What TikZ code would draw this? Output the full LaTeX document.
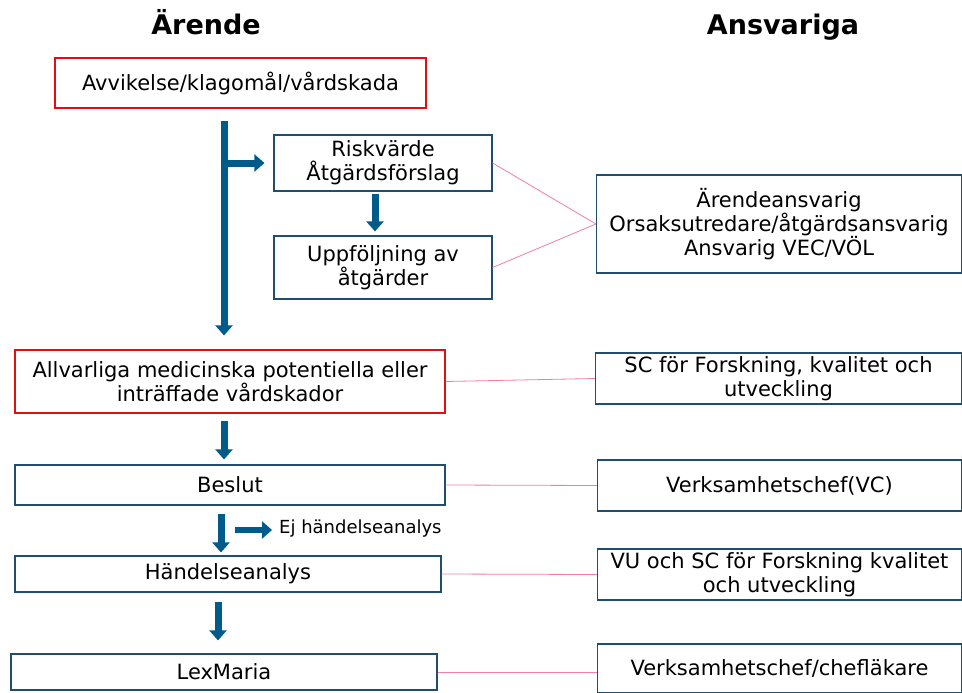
\documentclass[tikz,border=0pt]{standalone}
\usepackage{fontspec}
\setmainfont{DejaVu Sans}
\usepackage{tikz}
\usetikzlibrary{arrows.meta}

\definecolor{boxblue}{HTML}{1F4E6E}
\definecolor{flowblue}{HTML}{005A8A}
\definecolor{linkpink}{HTML}{F07FA0}
\definecolor{alertred}{HTML}{E01010}

\begin{document}
\begin{tikzpicture}[x=1pt,y=-1pt]
	\tikzset{every node/.style={font=\fontsize{21}{24}\selectfont,align=center,inner sep=0pt}}
	\tikzset{ruta/.style={draw=boxblue,line width=1.2pt}}
	\tikzset{larm/.style={draw=alertred,line width=1.2pt}}
	\tikzset{pil/.style={draw=flowblue,line width=7pt,-{Triangle[width=17pt,length=10pt]}}}
	\tikzset{koppling/.style={draw=linkpink,line width=0.8pt}}
	\tikzset{rubrik/.style={font=\fontsize{27}{30}\selectfont\bfseries,anchor=base}}
	\useasboundingbox (0,0) rectangle (962,693);
	% rubriker
	\node[rubrik] (arende) at (206,35) {Ärende};
	\node[rubrik] (ansvariga) at (783,35) {Ansvariga};
	% vänster kolumn
	\node[larm,minimum width=371pt,minimum height=50pt] (avv) at (240.5,83) {Avvikelse/klagomål/vårdskada};
	\node[ruta,minimum width=218pt,minimum height=56pt] (risk) at (383,163) {Riskvärde\\Åtgärdsförslag};
	\node[ruta,minimum width=218pt,minimum height=63pt] (uppf) at (383,267.5) {Uppföljning av\\åtgärder};
	\node[larm,minimum width=430pt,minimum height=63pt] (allv) at (230,381.5) {Allvarliga medicinska potentiella eller\\inträffade vårdskador};
	\node[ruta,minimum width=430pt,minimum height=40pt] (beslut) at (230,485) {Beslut};
	\node[ruta,minimum width=426pt,minimum height=36pt] (hand) at (228,574) {Händelseanalys};
	\node[ruta,minimum width=426pt,minimum height=36pt] (lex) at (224,672) {LexMaria};
	\node[anchor=west,font=\fontsize{18}{21}\selectfont] (ej) at (279,529) {Ej händelseanalys};
	% höger kolumn
	\node[ruta,minimum width=365pt,minimum height=98pt] (ansv) at (779,224) {Ärendeansvarig\\Orsaksutredare/åtgärdsansvarig\\Ansvarig VEC/VÖL};
	\node[ruta,minimum width=366pt,minimum height=51pt] (sc) at (778.5,378.5) {SC för Forskning, kvalitet och\\utveckling};
	\node[ruta,minimum width=364pt,minimum height=51pt] (vc) at (779.5,485.5) {Verksamhetschef(VC)};
	\node[ruta,minimum width=364pt,minimum height=51pt] (vu) at (779.5,574.5) {VU och SC för Forskning kvalitet\\och utveckling};
	\node[ruta,minimum width=364pt,minimum height=49pt] (chef) at (779.5,668.5) {Verksamhetschef/chefläkare};
	% pilar
	\coordinate (stam) at (224,121);
	\coordinate (gren) at (224,163);
	\coordinate (ejstart) at (235,530);
	\draw[pil,shorten >=14pt] (stam) -- (stam |- allv.north);
	\draw[pil,shorten <=-3.5pt,shorten >=9pt] (gren) -- (risk.west);
	\draw[pil,shorten <=2pt,shorten >=4pt] ([xshift=-8pt]risk.south) -- ([xshift=-8pt]uppf.north);
	\draw[pil,shorten <=7pt,shorten >=5pt] (allv.south -| stam) -- (beslut.north -| stam);
	\draw[pil,shorten <=8pt,shorten >=3pt] ([xshift=-9pt]beslut.south) -- ([xshift=-7pt]hand.north);
	\draw[pil,line width=6pt,shorten >=7pt] (ejstart) -- (ejstart -| ej.west);
	\draw[pil,shorten <=9pt,shorten >=13pt] ([xshift=-10pt]hand.south) -- ([xshift=-6pt]lex.north);
	% kopplingar
	\draw[koppling] (risk.east) -- (ansv.west);
	\draw[koppling] (uppf.east) -- (ansv.west);
	\draw[koppling] (allv.east) -- (sc.west);
	\draw[koppling] (beslut.east) -- (vc.west);
	\draw[koppling] (hand.east) -- (vu.west);
	\draw[koppling] (lex.east) -- (lex.east -| chef.west);
\end{tikzpicture}
\end{document}
